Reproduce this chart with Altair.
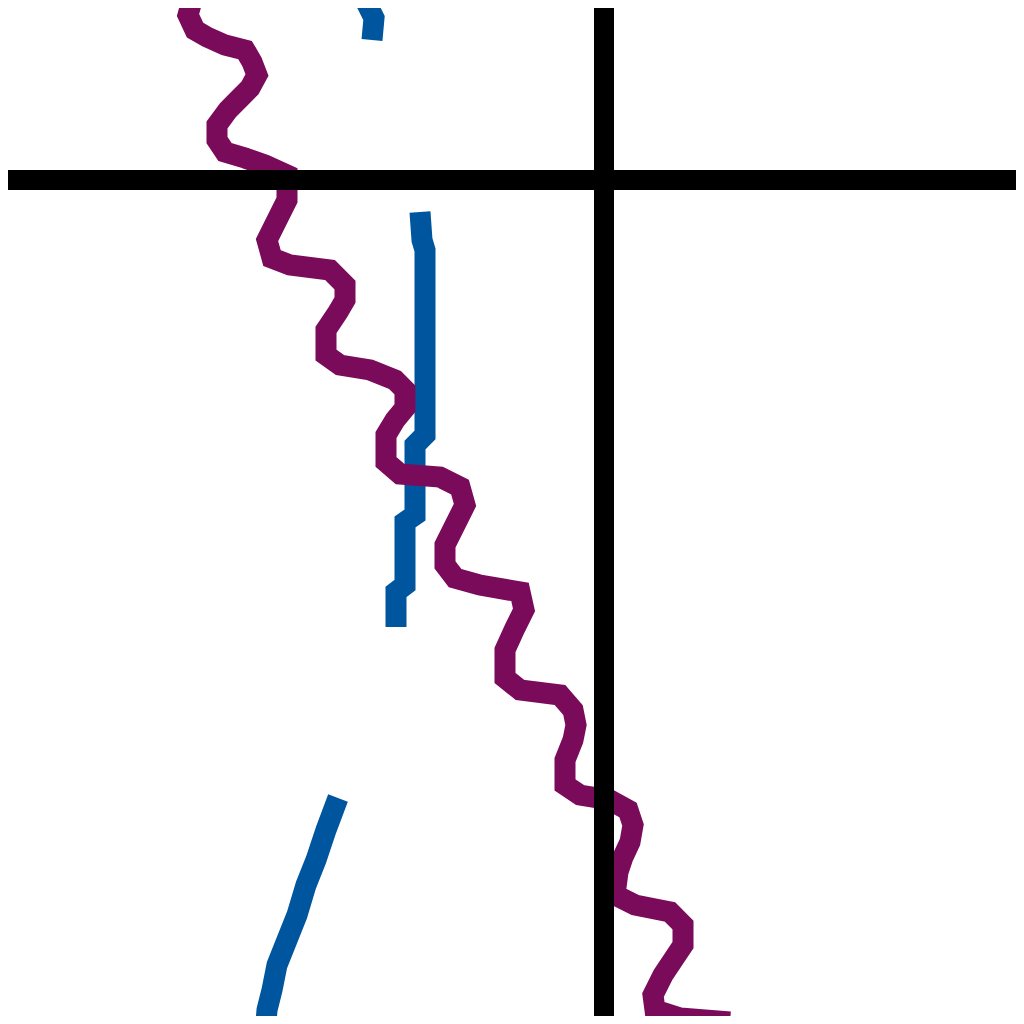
import altair as alt
import pandas as pd

# Purple wavy series (traced centre line, pixel-like units)
purple_x = [195, 188, 195, 207, 225, 245, 252, 257, 250, 240, 228, 217, 217, 225, 245, 265, 287,
            287, 277, 267, 272, 290, 330, 345, 345, 338, 326, 326, 340, 370, 395, 405, 405, 395,
            386, 386, 400, 440, 460, 465, 455, 445, 445, 455, 480, 520, 524, 515, 505, 505, 520,
            560, 573, 576, 573, 565, 565, 580, 610, 628, 633, 630, 623, 618, 615, 635, 670, 683,
            683, 673, 663, 653, 655, 680, 730]
purple_y = [-10, 15, 30, 37, 45, 50, 62, 75, 88, 98, 110, 125, 140, 152, 158, 165, 175,
            200, 220, 240, 258, 265, 270, 285, 300, 312, 330, 355, 365, 370, 380, 390, 408, 420,
            435, 462, 474, 477, 487, 505, 525, 545, 565, 578, 585, 592, 610, 628, 650, 678, 690,
            695, 710, 725, 740, 760, 785, 795, 800, 810, 825, 842, 857, 872, 895, 905, 912, 925,
            945, 960, 975, 995, 1010, 1018, 1022]

# Blue segments
blue1_x = [360, 374, 372]
blue1_y = [-10, 18, 40]
blue2_x = [420, 422, 425, 425, 415, 415, 405, 405, 396, 396]
blue2_y = [212, 240, 250, 435, 445, 515, 522, 585, 592, 627]
blue3_x = [338, 326, 316, 306, 297, 287, 277, 272, 267, 265]
blue3_y = [798, 830, 860, 885, 915, 940, 965, 990, 1010, 1035]

# Reference rules
rule_x = [604]
rule_y = [180]

rows = []
for seg, xs_, ys_ in [("b1", blue1_x, blue1_y), ("b2", blue2_x, blue2_y), ("b3", blue3_x, blue3_y)]:
    for i, (a, b) in enumerate(zip(xs_, ys_)):
        rows.append({"x": a, "y": b, "seg": seg, "i": i})
blue_df = pd.DataFrame(rows)
purple_df = pd.DataFrame({"x": purple_x, "y": purple_y, "i": range(len(purple_x))})

xs = alt.Scale(domain=[8, 1016], nice=False, zero=False)
ys = alt.Scale(domain=[1016, 8], nice=False, zero=False)

blue = alt.Chart(blue_df).mark_line(color="#00569e", strokeWidth=21, clip=True).encode(
    x=alt.X("x:Q", scale=xs, axis=None),
    y=alt.Y("y:Q", scale=ys, axis=None),
    detail="seg:N",
    order="i:Q",
)
purple = alt.Chart(purple_df).mark_line(color="#7a0a5a", strokeWidth=21, clip=True).encode(
    x=alt.X("x:Q", scale=xs, axis=None),
    y=alt.Y("y:Q", scale=ys, axis=None),
    order="i:Q",
)
vrule = alt.Chart(pd.DataFrame({"x": rule_x})).mark_rule(color="black", strokeWidth=20).encode(
    x=alt.X("x:Q", scale=xs, axis=None)
)
hrule = alt.Chart(pd.DataFrame({"y": rule_y})).mark_rule(color="black", strokeWidth=20).encode(
    y=alt.Y("y:Q", scale=ys, axis=None)
)

chart = alt.layer(blue, purple, vrule, hrule).properties(
    width=1008, height=1008, padding=0, autosize=alt.AutoSizeParams(type="none")
).configure_view(stroke=None)

chart.save("out.html", embed_options={"renderer": "svg", "actions": False})
